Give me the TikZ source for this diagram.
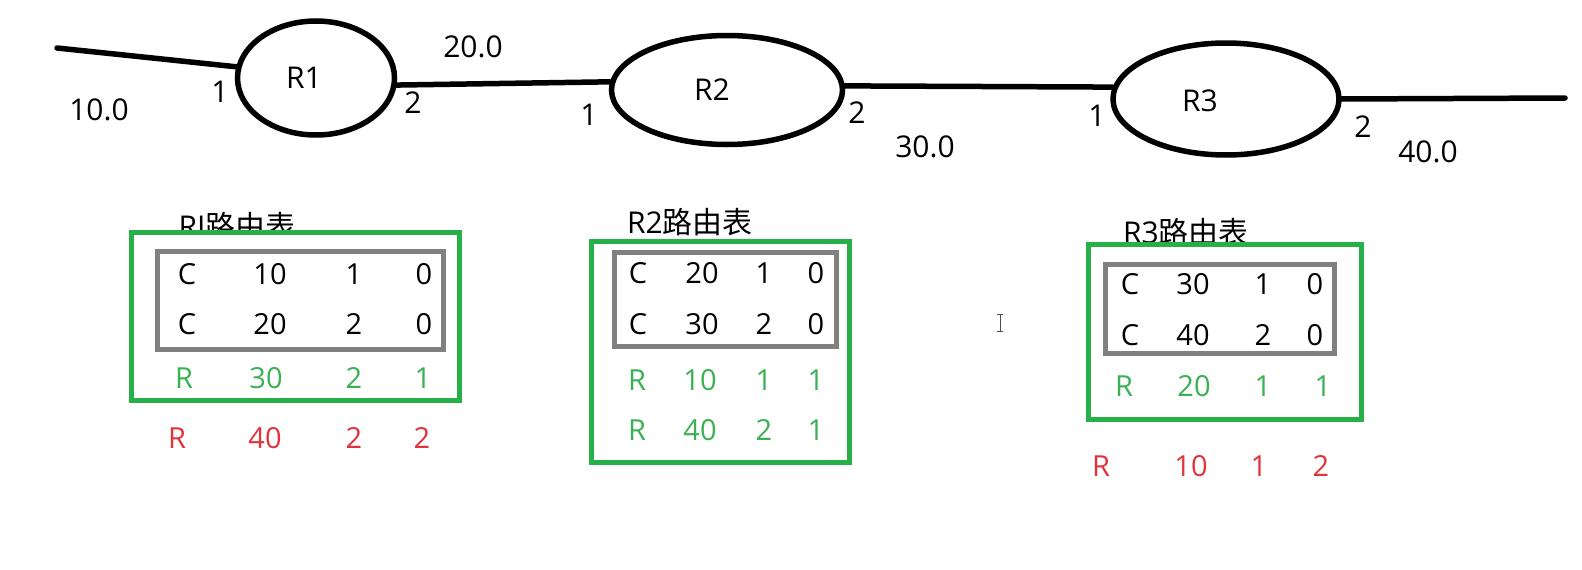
\documentclass[tikz,border=0pt]{standalone}
\usepackage{fontspec}
\setmainfont{Open Sans}
\newfontfamily\cjk{Noto Sans CJK SC}
\usetikzlibrary{shapes.geometric}
\definecolor{boxgreen}{RGB}{40,176,72}
\definecolor{txtgreen}{RGB}{58,178,84}
\definecolor{txtred}{RGB}{226,50,60}
\definecolor{boxgray}{RGB}{128,128,128}
\begin{document}
\begin{tikzpicture}[x=1pt,y=-1pt,
  router/.style={draw,ellipse,line width=5.5pt,inner sep=0pt},
  wire/.style={line width=5.5pt,line cap=round},
  lbl/.style={font=\fontsize{30}{36}\selectfont,inner sep=0pt},
  cell/.style={font=\fontsize{29}{35}\selectfont,inner sep=0pt},
  ttl/.style={font=\fontsize{30}{36}\selectfont,inner sep=0pt},
  gbox/.style={draw=boxgreen,line width=5pt,fill=white},
  kbox/.style={draw=boxgray,line width=5pt}]
\useasboundingbox (0,0) rectangle (1582,570);
% routers
\node[router,minimum width=157pt,minimum height=114pt] (r1) at (316,78) {};
\node[router,minimum width=231pt,minimum height=109pt] (r2) at (727,90) {};
\node[router,minimum width=226pt,minimum height=112pt] (r3) at (1226,99) {};
\node[lbl] (r1t) at (304,78) {R1};
\node[lbl] (r2t) at (712,90) {R2};
\node[lbl] (r3t) at (1200,101) {R3};
% wires
\coordinate (a0) at (57,48);
\coordinate (e0) at (1565,98);
\draw[wire] (a0) -- (r1.172);
\draw[wire] (r1.-5) -- (r2.176);
\draw[wire] (r2.2) -- (r3.174.6);
\draw[wire] (r3.0) -- (e0);
% port and cost labels
\node[lbl] (p11) at (220,92) {1};
\node[lbl] (p12) at (413,103) {2};
\node[lbl] (p21) at (589,115) {1};
\node[lbl] (p22) at (857,113) {2};
\node[lbl] (p31) at (1097,116) {1};
\node[lbl] (p32) at (1363,127) {2};
\node[lbl] (c10) at (99,110) {10.0};
\node[lbl] (c20) at (473,47) {20.0};
\node[lbl] (c30) at (925,147) {30.0};
\node[lbl] (c40) at (1428,152) {40.0};
% table 1
\node[ttl] (t1) at (237,226) {RI{\cjk 路由表}};
\draw[gbox] (131,232) rectangle (459,400);
\draw[kbox] (157,251) rectangle (443,349);
\foreach \x/\t [count=\i] in {187/C,270/10,354/1,424/0}
  \node[cell] (ta-1-\i) at (\x,274) {\t};
\foreach \x/\t [count=\i] in {187/C,270/20,354/2,424/0}
  \node[cell] (ta-2-\i) at (\x,324) {\t};
\foreach \x/\t [count=\i] in {184/R,266/30,354/2,423/1}
  \node[cell,txtgreen] (ta-3-\i) at (\x,378) {\t};
\foreach \x/\t [count=\i] in {177/R,265/40,354/2,422/2}
  \node[cell,txtred] (ta-4-\i) at (\x,438) {\t};
% table 2
\node[ttl] (t2) at (690,222) {R2{\cjk 路由表}};
\draw[gbox] (591,241) rectangle (849,462);
\draw[kbox] (614,252) rectangle (836,346);
\foreach \x/\t [count=\i] in {638/C,702/20,764/1,816/0}
  \node[cell] (tb-1-\i) at (\x,273) {\t};
\foreach \x/\t [count=\i] in {638/C,702/30,764/2,816/0}
  \node[cell] (tb-2-\i) at (\x,324) {\t};
\foreach \x/\t [count=\i] in {637/R,700/10,764/1,816/1}
  \node[cell,txtgreen] (tb-3-\i) at (\x,380) {\t};
\foreach \x/\t [count=\i] in {637/R,700/40,764/2,816/1}
  \node[cell,txtgreen] (tb-4-\i) at (\x,430) {\t};
% table 3
\node[ttl] (t3) at (1186,232) {R3{\cjk 路由表}};
\draw[gbox] (1088,244) rectangle (1361,419);
\draw[kbox] (1105,264) rectangle (1334,353);
\foreach \x/\t [count=\i] in {1130/C,1193/30,1263/1,1315/0}
  \node[cell] (tc-1-\i) at (\x,284) {\t};
\foreach \x/\t [count=\i] in {1130/C,1193/40,1263/2,1315/0}
  \node[cell] (tc-2-\i) at (\x,335) {\t};
\foreach \x/\t [count=\i] in {1124/R,1194/20,1263/1,1323/1}
  \node[cell,txtgreen] (tc-3-\i) at (\x,386) {\t};
\foreach \x/\t [count=\i] in {1101/R,1191/10,1259/1,1321/2}
  \node[cell,txtred] (tc-4-\i) at (\x,466) {\t};
% text cursor
\draw[line width=1pt,black!70] (1000,314) -- (1000,331)
  (997,314) -- (1003,314) (997,331) -- (1003,331);
\end{tikzpicture}
\end{document}
